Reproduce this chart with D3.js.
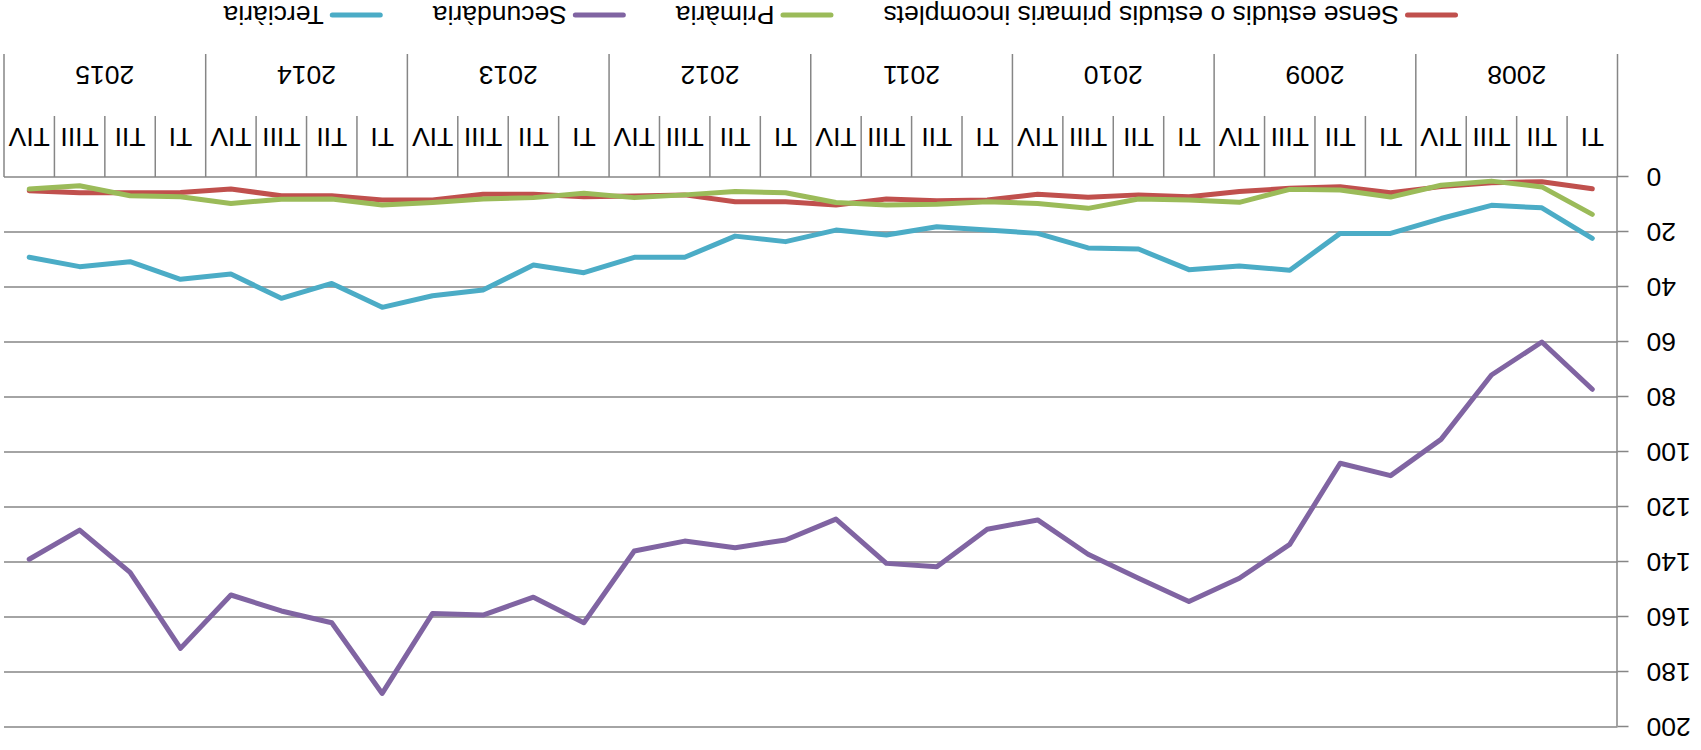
<!DOCTYPE html>
<html>
<head>
<meta charset="utf-8">
<script src="https://d3js.org/d3.v7.min.js"></script>
<style>
  body { margin: 0; background: #fff; }
  svg { display: block; }
</style>
</head>
<body>
<div id="chart"></div>
<script>
// data, index 0 = 2008 TI ... 31 = 2015 TIV
var years = ["2008", "2009", "2010", "2011", "2012", "2013", "2014", "2015"];
var quarters = ["TI", "TII", "TIII", "TIV"];
var yTicks = [0, 20, 40, 60, 80, 100, 120, 140, 160, 180, 200];

var senseEstudis = [4.3, 1.7, 2.1, 3.5, 5.7, 3.5, 4.1, 5.3, 7.2, 6.5, 7.4, 6.3, 8.4, 8.6, 8.0, 10.2,
                    9.0, 9.0, 6.5, 6.9, 7.2, 6.3, 6.3, 8.4, 8.4, 6.8, 6.8, 4.4, 5.6, 5.7, 5.7, 5.0];
var primaria = [13.6, 3.6, 1.5, 3.0, 7.3, 4.7, 4.5, 9.2, 8.4, 8.0, 11.4, 9.6, 9.0, 9.9, 10.2, 9.3,
                5.7, 5.3, 6.5, 7.5, 5.9, 7.5, 8.0, 9.3, 10.2, 8.0, 8.1, 9.6, 7.2, 6.8, 3.2, 4.4];
var secundaria = [77.2, 60, 72, 95.4, 108.6, 104.1, 133.6, 145.9, 154.4, 145.9, 137.2, 124.7, 128.1, 141.7, 140.5, 124.4,
                  132.0, 134.8, 132.4, 136.0, 162.1, 152.8, 159.3, 158.7, 187.8, 162.1, 157.8, 152.0, 171.4, 143.8, 128.4, 139.0];
var terciaria = [22.3, 11.2, 10.3, 15.1, 20.5, 20.5, 33.9, 32.4, 33.7, 26.2, 25.8, 20.5, 19.3, 18.1, 21.1, 19.3,
                 23.5, 21.5, 29.2, 29.2, 34.8, 32.0, 41.1, 43.2, 47.4, 38.7, 44.1, 35.3, 37.2, 30.8, 32.6, 29.2];

var seriesNames = ["Sense estudis o estudis primaris incomplets", "Primària", "Secundària", "Terciària"];
var seriesColors = ["#C0504D", "#9BBB59", "#8064A2", "#4BACC6"];
var seriesValues = [senseEstudis, primaria, secundaria, terciaria];

var categories = [];
years.forEach(function (yr) {
  quarters.forEach(function (q) { categories.push(yr + " " + q); });
});

var width = 1701, height = 750;
var plotLeft = 83.5, plotRight = 1697, plotTop = 23, plotBottom = 573;
var font = "'Liberation Sans', Arial, sans-serif";
var fontSize = "26.5px";
var gridColor = "#868686";

var svg = d3.select("#chart").append("svg")
  .attr("width", width)
  .attr("height", height);

// the whole chart is drawn upside down
var g = svg.append("g")
  .attr("transform", "rotate(180 " + (width / 2) + " " + (height / 2) + ")");

var x = d3.scaleBand().domain(categories).range([plotLeft, plotRight]).padding(0);
var bw = x.bandwidth();
var y = d3.scaleLinear().domain([0, 200]).range([plotBottom, plotTop]);

// gridlines
g.append("g").selectAll("line")
  .data(yTicks)
  .join("line")
  .attr("x1", plotLeft).attr("x2", plotRight)
  .attr("y1", function (d) { return y(d); })
  .attr("y2", function (d) { return y(d); })
  .attr("stroke", gridColor)
  .attr("stroke-width", 1.5);

// y axis
var yAxis = g.append("g")
  .attr("transform", "translate(" + plotLeft + ",0)")
  .call(d3.axisLeft(y).tickValues(yTicks).tickSize(11).tickSizeOuter(0).tickPadding(18));
yAxis.select(".domain").attr("stroke", gridColor).attr("stroke-width", 1.5);
yAxis.selectAll(".tick line").attr("stroke", gridColor).attr("stroke-width", 1.5);
yAxis.selectAll(".tick text")
  .attr("fill", "#000")
  .style("font-family", font)
  .style("font-size", fontSize);

// category separators below the axis
var bounds = d3.range(categories.length + 1);
g.append("g").selectAll("line")
  .data(bounds)
  .join("line")
  .attr("x1", function (k) { return plotLeft + k * bw; })
  .attr("x2", function (k) { return plotLeft + k * bw; })
  .attr("y1", plotBottom)
  .attr("y2", function (k) { return k % 4 === 0 ? 696 : 634; })
  .attr("stroke", gridColor)
  .attr("stroke-width", 1.5);

// quarter labels
g.append("g").selectAll("text")
  .data(categories)
  .join("text")
  .attr("x", function (d) { return x(d) + bw / 2; })
  .attr("y", 613)
  .attr("dy", "0.35em")
  .attr("text-anchor", "middle")
  .style("font-family", font)
  .style("font-size", fontSize)
  .text(function (d) { return d.split(" ")[1]; });

// year labels
g.append("g").selectAll("text")
  .data(years)
  .join("text")
  .attr("x", function (d) { return x(d + " TI") + bw * 2; })
  .attr("y", 675)
  .attr("dy", "0.35em")
  .attr("text-anchor", "middle")
  .style("font-family", font)
  .style("font-size", fontSize)
  .text(function (d) { return d; });

// series
var line = d3.line()
  .x(function (d, i) { return x(categories[i]) + bw / 2; })
  .y(function (d) { return y(d); });

seriesValues.forEach(function (vals, s) {
  g.append("path")
    .datum(vals)
    .attr("d", line)
    .attr("fill", "none")
    .attr("stroke", seriesColors[s])
    .attr("stroke-width", 5)
    .attr("stroke-linejoin", "round")
    .attr("stroke-linecap", "round");
});

// legend
var legend = g.append("g");
var lx = 243;
seriesNames.forEach(function (name, s) {
  legend.append("line")
    .attr("x1", lx + 2.5).attr("x2", lx + 50.5)
    .attr("y1", 735).attr("y2", 735)
    .attr("stroke", seriesColors[s])
    .attr("stroke-width", 5)
    .attr("stroke-linecap", "round");
  var t = legend.append("text")
    .attr("x", lx + 59)
    .attr("y", 735)
    .attr("dy", "0.35em")
    .style("font-family", font)
    .style("font-size", fontSize)
    .text(name);
  lx = lx + 59 + t.node().getComputedTextLength() + 50;
});
</script>
</body>
</html>
